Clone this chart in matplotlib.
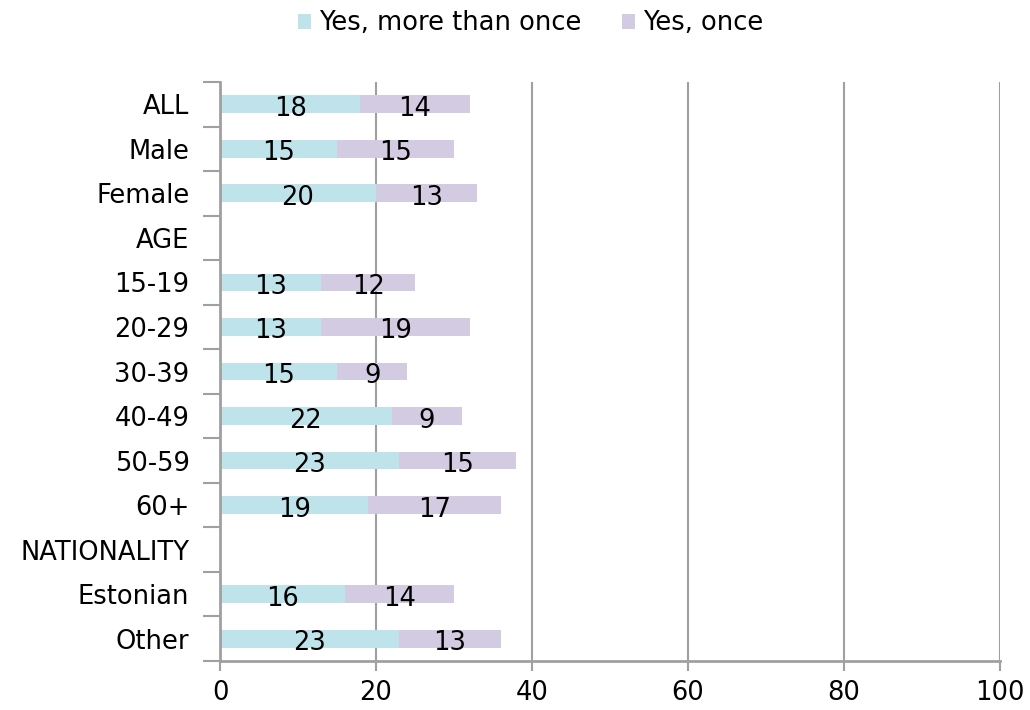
"""Stacked horizontal bars of survey answers by group."""
import numpy as np
import matplotlib.pyplot as plt

categories = ["ALL", "Male", "Female", "AGE", "15-19", "20-29", "30-39",
              "40-49", "50-59", "60+", "NATIONALITY", "Estonian", "Other"]
more_than_once = [18, 15, 20, None, 13, 13, 15, 22, 23, 19, None, 16, 23]
once = [14, 15, 13, None, 12, 19, 9, 9, 15, 17, None, 14, 13]
series_names = ["Yes, more than once", "Yes, once"]
x_ticks = [0, 20, 40, 60, 80, 100]

CYAN = "#bee3ea"
LILAC = "#d3cbe1"
GREY = "#a0a0a0"
FS = 18.5

plt.rcParams["font.family"] = ["DejaVu Sans"]

fig = plt.figure(figsize=(10.3, 7.1), dpi=100)
ax = fig.add_axes([0.2136, 0.069, 0.7573, 0.8155])

y = np.arange(len(categories))
a = np.array([v if v is not None else 0 for v in more_than_once], float)
b = np.array([v if v is not None else 0 for v in once], float)

bars_a = ax.barh(y, a, height=0.4, color=CYAN, label=series_names[0],
                 zorder=2)
bars_b = ax.barh(y, b, left=a, height=0.4, color=LILAC,
                 label=series_names[1], zorder=2)

for i in range(len(categories)):
    if more_than_once[i] is None:
        continue
    ax.text(a[i] / 2, y[i] + 0.1, str(more_than_once[i]), ha="center",
            va="center", fontsize=FS, zorder=3)
    ax.text(a[i] + b[i] / 2, y[i] + 0.1, str(once[i]), ha="center",
            va="center", fontsize=FS, zorder=3)

ax.set_xlim(0, 100)
ax.set_ylim(len(categories) - 0.5, -0.5)
ax.set_xticks(x_ticks)
ax.set_yticks(y)
ax.set_yticklabels(categories)
ax.set_yticks(np.arange(-0.5, len(categories), 1.0), minor=True)

ax.tick_params(axis="y", which="major", length=0, pad=22, labelsize=FS)
ax.tick_params(axis="y", which="minor", length=12, width=1.5, color=GREY,
               direction="out")
ax.tick_params(axis="x", length=7, width=1.5, color=GREY, direction="out",
               labelsize=FS, pad=7)

ax.grid(axis="x", color=GREY, linewidth=1.5, zorder=1)
for side in ["top", "right"]:
    ax.spines[side].set_visible(False)
for side in ["left", "bottom"]:
    ax.spines[side].set_color(GREY)
    ax.spines[side].set_linewidth(2)

fig.legend(handles=[bars_a, bars_b], loc="upper center",
           bbox_to_anchor=(0.515, 1.018), ncol=2, frameon=False, fontsize=FS,
           handlelength=0.5, handleheight=0.5, handletextpad=0.3,
           columnspacing=1.6)

fig.savefig("out.png", dpi=100)
